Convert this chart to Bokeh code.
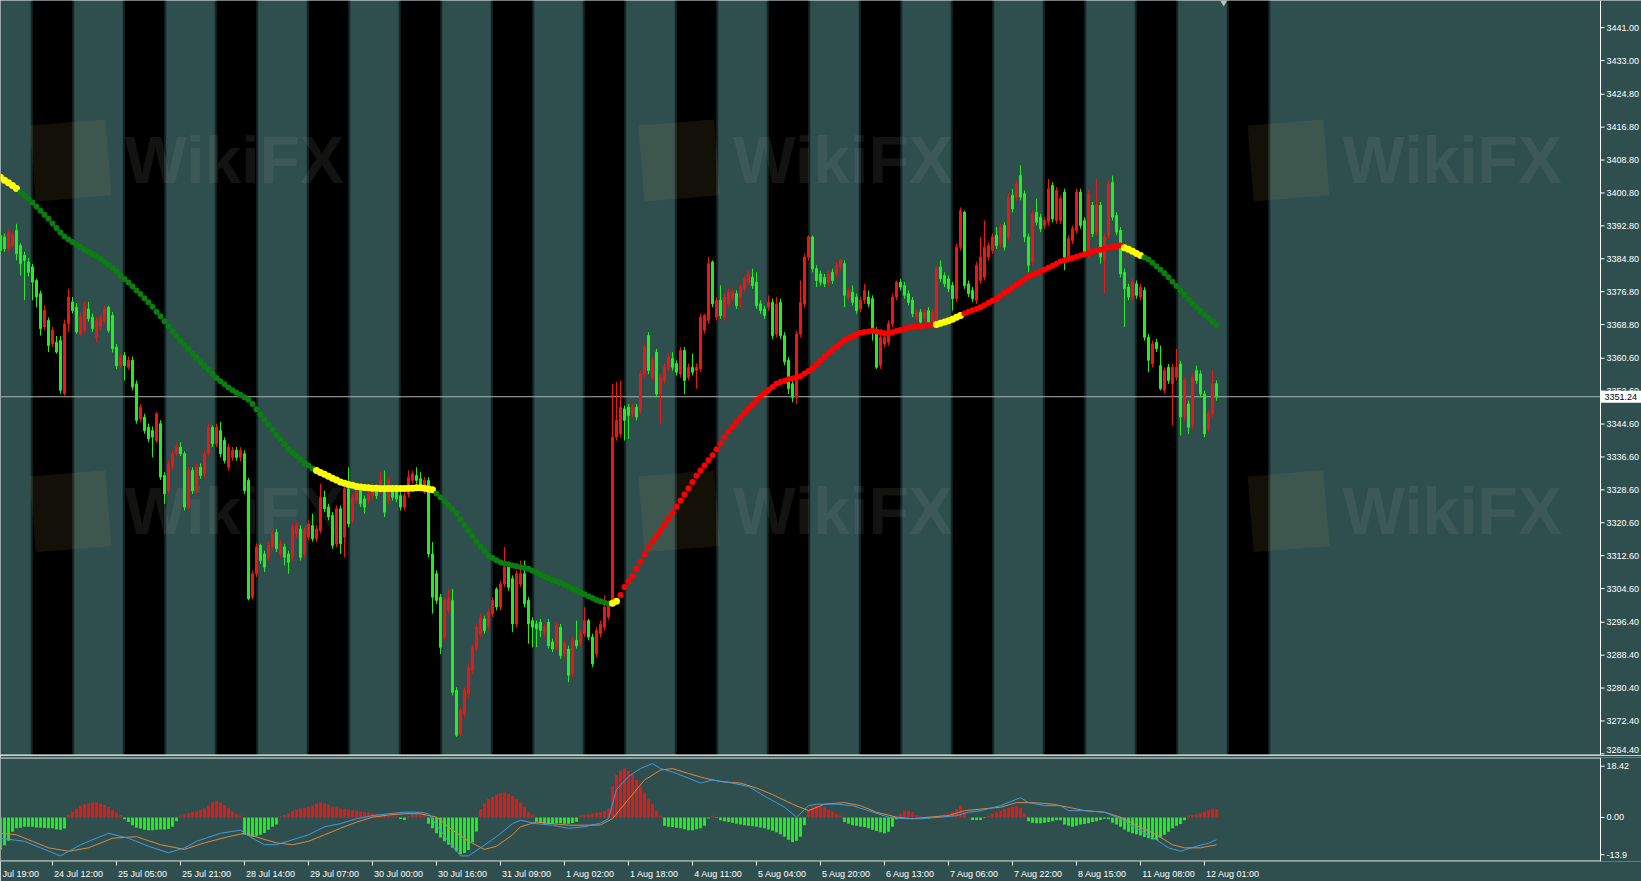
from bokeh.plotting import figure
from bokeh.models import Range1d, FixedTicker, LinearAxis, ColumnDataSource
from bokeh.layouts import column
from bokeh.embed import file_html
from bokeh.resources import INLINE
from bokeh.core.properties import value

# ---------------- data (hourly candles) ----------------
open_ = [3390.5,3390.1,3387.2,3388.0,3391.7,3388.0,3385.6,3384.0,3382.8,3379.5,
3376.3,3368.2,3369.8,3364.1,3364.5,3364.9,3352.0,3369.0,3374.3,3373.0,
3366.5,3367.4,3372.6,3370.6,3365.7,3368.2,3369.8,3373.0,3371.0,3363.3,
3358.8,3361.3,3358.4,3360.1,3354.4,3345.9,3346.3,3343.8,3343.0,3340.6,
3344.7,3332.1,3328.4,3334.1,3337.4,3339.0,3337.4,3324.4,3333.3,3328.4,
3334.1,3332.5,3337.4,3343.8,3339.8,3343.0,3340.6,3334.1,3336.5,3338.2,
3336.5,3337.4,3330.9,3302.5,3308.2,3315.1,3313.0,3312.2,3314.7,3318.3,
3313.0,3314.7,3313.0,3312.2,3317.9,3319.1,3313.0,3317.1,3319.9,3316.7,
3318.7,3326.8,3324.4,3322.4,3315.5,3324.0,3317.1,3328.9,3321.2,3326.0,
3328.4,3326.4,3326.0,3327.2,3328.9,3328.4,3328.4,3326.0,3328.4,3328.4,
3327.2,3324.4,3327.6,3330.9,3332.1,3331.3,3328.4,3330.9,3313.0,3308.2,
3302.5,3292.8,3299.3,3301.7,3279.8,3269.3,3274.1,3279.0,3284.7,3290.3,
3293.6,3297.2,3295.6,3298.5,3304.5,3300.1,3305.7,3309.8,3307.0,3296.0,
3305.7,3308.2,3301.7,3296.8,3296.0,3296.4,3293.6,3296.4,3291.6,3290.3,
3295.2,3288.7,3289.9,3283.9,3292.0,3291.2,3293.6,3296.8,3292.8,3288.7,
3293.6,3295.2,3297.7,3300.9,3341.4,3342.2,3348.3,3348.7,3347.1,3348.7,
3347.9,3356.8,3366.1,3356.0,3362.1,3351.9,3355.2,3358.4,3360.5,3359.3,
3356.8,3362.5,3356.0,3358.4,3357.6,3358.0,3367.4,3369.8,3384.0,3370.6,
3374.7,3370.6,3373.8,3375.1,3376.3,3375.5,3377.5,3379.1,3380.3,3379.1,
3373.8,3372.6,3373.0,3374.2,3366.5,3374.2,3366.1,3360.1,3354.4,3351.1,
3366.5,3373.8,3385.2,3390.1,3382.4,3381.1,3380.3,3379.1,3381.5,3381.1,
3382.8,3383.6,3375.5,3376.7,3375.5,3372.6,3374.7,3375.5,3375.1,3367.4,
3358.8,3364.1,3364.5,3369.0,3375.5,3379.1,3378.3,3376.3,3374.7,3370.6,
3371.8,3370.2,3372.2,3369.0,3369.0,3382.8,3380.7,3379.9,3378.3,3375.1,
3387.6,3396.1,3378.7,3377.1,3374.7,3379.5,3380.3,3385.2,3386.8,3390.5,
3388.4,3392.9,3390.1,3400.2,3399.8,3405.0,3400.6,3390.1,3384.0,3396.1,
3394.9,3392.9,3393.7,3402.6,3394.1,3394.1,3401.0,3385.2,3389.2,3391.7,
3401.0,3394.1,3386.0,3397.8,3391.3,3397.8,3384.4,3390.5,3403.4,3395.3,
3391.7,3381.5,3377.9,3375.5,3378.7,3375.5,3377.1,3365.7,3359.2,3364.5,
3358.8,3352.8,3358.4,3354.4,3356.0,3359.2,3346.3,3349.5,3344.3,3357.6,
3356.8,3351.9,3343.4,3347.1,3354.4]
high = [3391.3,3391.0,3392.0,3391.5,3393.3,3388.6,3386.5,3385.0,3383.5,3380.0,
3377.0,3373.5,3370.5,3368.2,3366.0,3366.0,3370.0,3377.5,3375.5,3374.0,
3371.5,3374.3,3374.3,3371.5,3370.5,3371.2,3373.4,3373.4,3371.8,3364.1,
3361.7,3362.1,3361.0,3361.0,3355.2,3349.5,3347.1,3344.7,3344.0,3347.5,
3345.5,3332.9,3335.7,3338.2,3340.0,3340.2,3338.0,3334.2,3334.1,3334.9,
3335.0,3338.2,3344.7,3344.3,3344.7,3345.1,3341.4,3339.8,3339.0,3339.0,
3339.0,3338.2,3331.5,3309.0,3315.5,3315.5,3313.8,3315.9,3318.7,3319.1,
3316.3,3315.5,3313.8,3320.3,3320.7,3320.0,3319.5,3321.2,3322.8,3320.0,
3330.1,3328.4,3325.2,3323.2,3324.8,3324.8,3329.3,3334.1,3327.6,3329.3,
3329.3,3327.2,3328.4,3330.1,3329.7,3332.9,3333.3,3331.7,3329.3,3329.3,
3328.0,3328.0,3333.3,3333.3,3334.1,3332.9,3331.7,3331.7,3315.9,3309.0,
3303.3,3302.5,3304.5,3304.5,3280.6,3275.8,3280.6,3286.3,3291.1,3296.0,
3298.5,3298.0,3299.7,3302.5,3304.9,3306.5,3314.7,3310.6,3307.8,3309.0,
3311.4,3311.4,3302.5,3297.6,3296.8,3297.2,3296.0,3297.2,3292.4,3296.4,
3296.0,3292.0,3290.7,3292.8,3296.8,3294.4,3300.1,3297.2,3293.6,3295.2,
3296.8,3302.9,3301.7,3354.4,3354.8,3355.2,3349.1,3349.5,3349.5,3349.5,
3357.6,3364.1,3366.9,3360.9,3362.9,3356.8,3359.3,3361.7,3362.1,3360.1,
3363.3,3363.3,3359.3,3361.7,3359.3,3371.4,3371.4,3385.2,3384.4,3375.5,
3378.3,3376.3,3377.5,3377.5,3377.1,3378.7,3380.7,3381.9,3382.4,3381.5,
3374.7,3373.4,3375.9,3375.1,3375.5,3375.1,3366.9,3360.9,3355.2,3367.3,
3379.5,3386.0,3390.5,3390.5,3383.2,3381.9,3381.1,3381.9,3382.4,3384.0,
3384.8,3384.4,3377.9,3378.3,3376.3,3375.5,3378.7,3377.1,3375.9,3368.2,
3366.5,3366.5,3369.8,3376.3,3379.5,3379.9,3379.1,3377.1,3375.5,3372.6,
3372.6,3372.6,3373.0,3372.6,3382.8,3384.4,3381.5,3380.7,3379.1,3388.4,
3397.3,3396.5,3379.5,3377.9,3384.0,3390.1,3394.1,3388.8,3390.9,3392.5,
3393.3,3393.7,3400.6,3401.8,3403.8,3407.5,3401.4,3390.9,3396.5,3399.4,
3395.7,3394.9,3404.2,3403.4,3402.2,3400.2,3401.8,3390.5,3392.9,3401.8,
3401.8,3394.9,3401.4,3398.6,3404.2,3398.6,3390.9,3403.8,3405.0,3396.1,
3392.5,3382.4,3378.7,3379.9,3379.5,3378.7,3377.9,3366.5,3364.9,3365.3,
3363.7,3358.4,3359.2,3359.2,3362.9,3360.0,3356.0,3350.3,3356.8,3358.8,
3357.6,3352.7,3347.9,3357.6,3355.2]
low = [3386.0,3386.5,3386.6,3387.5,3384.4,3380.7,3374.7,3380.5,3374.7,3373.0,
3366.1,3367.5,3362.1,3363.3,3361.7,3352.0,3351.5,3367.0,3371.5,3366.5,
3366.0,3366.8,3369.5,3367.0,3364.5,3367.5,3369.0,3366.8,3362.0,3358.0,
3358.2,3355.2,3357.8,3352.8,3344.7,3345.1,3342.2,3340.2,3336.5,3340.0,
3331.0,3325.2,3327.8,3333.5,3336.8,3336.8,3323.6,3323.8,3327.6,3327.6,
3331.3,3331.7,3336.8,3339.0,3339.0,3336.5,3335.0,3333.3,3335.7,3335.7,
3335.5,3327.6,3301.7,3301.9,3307.5,3310.6,3308.6,3311.4,3314.0,3313.5,
3312.2,3310.2,3308.2,3311.4,3317.1,3311.4,3312.2,3316.3,3316.0,3315.9,
3318.0,3323.2,3321.2,3314.3,3314.7,3313.0,3312.2,3319.5,3320.5,3325.2,
3324.4,3322.8,3325.2,3326.4,3326.4,3327.6,3322.0,3325.2,3326.0,3325.6,
3323.6,3323.6,3326.8,3330.1,3330.1,3328.4,3327.6,3312.2,3298.5,3300.9,
3288.7,3292.0,3298.5,3278.6,3268.5,3268.7,3273.3,3278.2,3283.9,3289.5,
3292.8,3293.6,3294.8,3297.7,3299.3,3299.3,3305.0,3304.1,3294.0,3295.2,
3305.0,3300.1,3291.2,3290.3,3290.3,3292.8,3292.8,3290.0,3289.1,3289.5,
3287.5,3288.0,3281.8,3283.1,3290.0,3290.5,3292.8,3292.0,3285.5,3287.9,
3292.8,3294.4,3297.0,3300.1,3340.6,3341.4,3340.6,3341.0,3346.3,3345.5,
3347.1,3356.0,3356.8,3355.2,3351.1,3344.7,3354.4,3357.6,3357.6,3356.4,
3356.0,3351.9,3355.2,3356.4,3353.2,3357.2,3366.6,3369.0,3373.0,3369.8,
3370.2,3369.8,3373.0,3374.3,3372.6,3373.0,3376.7,3378.3,3377.5,3372.6,
3371.4,3370.2,3372.2,3365.3,3365.7,3365.3,3358.9,3351.9,3349.9,3349.5,
3365.7,3373.0,3384.4,3381.5,3377.9,3378.3,3377.9,3378.3,3378.7,3380.3,
3382.0,3373.0,3374.7,3373.4,3371.4,3371.8,3373.8,3373.0,3364.9,3358.0,
3358.0,3363.3,3363.7,3368.2,3374.7,3377.1,3375.1,3373.4,3370.6,3369.8,
3368.6,3369.4,3368.6,3368.2,3368.2,3379.1,3377.9,3376.7,3372.2,3374.3,
3386.8,3377.5,3375.5,3374.3,3373.8,3378.7,3379.5,3384.4,3386.0,3387.2,
3387.6,3386.8,3389.2,3396.1,3399.0,3399.0,3388.8,3381.5,3383.2,3392.9,
3391.3,3392.1,3392.9,3393.7,3393.3,3393.3,3382.0,3384.4,3388.4,3390.9,
3392.1,3385.2,3385.2,3390.1,3390.5,3383.6,3376.3,3389.7,3394.1,3390.5,
3380.3,3368.2,3374.7,3374.7,3375.1,3374.7,3364.9,3357.2,3358.4,3362.1,
3352.8,3352.0,3354.4,3344.3,3355.2,3341.8,3345.5,3342.2,3343.5,3354.4,
3351.1,3341.4,3342.6,3346.3,3350.3]
close = [3386.8,3387.2,3391.3,3390.5,3386.0,3383.6,3384.4,3381.5,3379.1,3375.5,
3367.8,3372.2,3363.7,3367.4,3362.1,3352.8,3369.0,3375.5,3372.2,3367.0,
3370.6,3373.0,3370.2,3367.8,3369.8,3370.6,3372.6,3367.4,3362.9,3358.8,
3360.9,3358.8,3360.1,3353.6,3345.5,3348.7,3343.0,3341.0,3341.4,3347.1,
3331.7,3327.6,3334.9,3337.4,3339.0,3337.4,3324.4,3333.3,3328.4,3334.1,
3332.1,3337.4,3343.8,3339.8,3343.8,3337.4,3335.7,3339.0,3338.2,3336.5,
3338.2,3328.4,3302.1,3308.2,3314.7,3311.4,3309.8,3315.1,3317.9,3314.3,
3315.5,3312.2,3311.0,3319.5,3319.9,3312.2,3318.7,3320.3,3316.7,3319.1,
3326.8,3324.0,3322.0,3315.1,3324.0,3315.5,3328.9,3320.3,3326.8,3328.4,
3325.2,3324.4,3327.6,3329.3,3327.2,3330.9,3323.2,3330.9,3326.8,3326.4,
3324.4,3327.2,3331.7,3332.5,3330.9,3329.3,3330.9,3313.0,3302.5,3301.7,
3290.3,3301.7,3302.1,3279.4,3268.9,3275.0,3279.8,3285.5,3290.3,3295.2,
3297.6,3294.4,3298.9,3301.7,3300.1,3305.7,3309.8,3304.9,3296.0,3308.2,
3308.2,3300.9,3296.0,3295.2,3294.8,3294.4,3295.2,3290.7,3289.9,3295.6,
3288.3,3291.2,3283.5,3292.0,3290.7,3293.6,3296.8,3292.8,3286.3,3294.4,
3296.0,3300.1,3300.9,3341.4,3345.5,3348.7,3345.5,3346.7,3348.7,3346.3,
3356.8,3363.3,3357.6,3360.1,3351.9,3356.0,3358.4,3360.9,3358.4,3357.2,
3362.5,3355.2,3358.4,3357.2,3358.4,3370.6,3371.0,3383.6,3373.8,3374.7,
3371.0,3375.5,3376.7,3376.7,3373.4,3377.9,3379.9,3381.1,3378.3,3373.4,
3372.2,3371.0,3374.2,3366.1,3373.8,3366.1,3359.7,3353.2,3351.1,3366.5,
3374.2,3385.2,3390.1,3382.4,3379.5,3379.1,3378.7,3381.1,3379.5,3383.2,
3384.4,3375.9,3377.1,3374.2,3372.2,3374.7,3377.1,3373.8,3367.4,3358.4,
3365.7,3365.7,3369.0,3375.5,3379.1,3377.9,3375.9,3374.2,3371.4,3371.8,
3369.4,3371.8,3369.4,3371.8,3382.4,3379.9,3378.7,3377.5,3375.1,3387.6,
3396.5,3378.3,3376.3,3375.1,3383.2,3385.2,3387.6,3388.0,3390.1,3388.0,
3392.5,3387.6,3399.8,3396.9,3403.0,3399.8,3390.1,3383.2,3395.7,3393.7,
3392.1,3394.1,3401.8,3394.5,3401.4,3399.4,3385.2,3389.7,3392.1,3401.0,
3392.9,3386.0,3400.6,3390.9,3397.8,3385.2,3390.1,3403.0,3394.9,3391.3,
3381.1,3377.5,3375.5,3379.1,3375.9,3377.9,3365.7,3360.1,3364.1,3362.9,
3353.2,3357.6,3355.2,3358.4,3358.4,3346.3,3355.2,3343.8,3356.0,3355.2,
3351.9,3342.2,3347.1,3354.4,3351.24]

# trend moving average (drawn as dots) and its colour state
ma = [3404.6,3403.9,3403.3,3402.6,3401.9,3401.0,3400.2,3399.3,3398.5,3397.5,
3396.5,3395.5,3394.5,3393.4,3392.3,3391.2,3390.2,3389.5,3388.9,3388.2,
3387.6,3387.0,3386.5,3385.9,3385.4,3384.8,3384.0,3383.3,3382.5,3381.7,
3380.8,3379.9,3379.0,3378.1,3377.1,3376.2,3375.2,3374.2,3373.1,3371.9,
3370.8,3369.6,3368.4,3367.2,3366.0,3364.8,3363.8,3362.8,3361.7,3360.7,
3359.7,3358.7,3357.8,3356.8,3355.8,3355.0,3354.3,3353.5,3352.8,3352.2,
3351.7,3351.1,3350.5,3349.5,3348.2,3347.0,3345.7,3344.5,3343.2,3342.0,
3340.9,3339.7,3338.5,3337.7,3336.9,3336.0,3335.2,3334.5,3333.8,3333.3,
3332.8,3332.4,3331.9,3331.4,3331.0,3330.5,3330.2,3329.9,3329.7,3329.4,
3329.3,3329.2,3329.1,3329.0,3329.0,3328.9,3328.9,3328.9,3328.9,3328.9,
3328.9,3328.9,3329.0,3329.0,3329.1,3329.1,3329.0,3328.8,3328.6,3327.7,
3326.8,3325.8,3324.8,3323.8,3322.8,3321.4,3320.0,3318.7,3317.3,3316.0,
3314.8,3313.7,3312.6,3312.0,3311.5,3311.0,3310.7,3310.5,3310.2,3310.0,
3309.8,3309.6,3309.4,3308.9,3308.5,3308.0,3307.5,3307.1,3306.7,3306.4,
3306.0,3305.5,3305.1,3304.6,3304.2,3303.7,3303.2,3302.7,3302.3,3301.8,
3301.5,3301.2,3300.9,3301.0,3301.5,3303.0,3305.0,3306.3,3307.6,3309.4,
3311.1,3312.9,3314.6,3316.0,3317.3,3318.7,3320.1,3321.6,3323.0,3324.5,
3326.0,3327.5,3329.0,3330.5,3332.0,3333.3,3334.5,3335.8,3337.0,3338.5,
3339.9,3341.4,3342.8,3343.9,3345.1,3346.2,3347.3,3348.3,3349.3,3350.3,
3351.3,3352.1,3352.9,3353.6,3354.4,3354.8,3355.1,3355.5,3355.7,3356.0,
3356.2,3356.9,3357.5,3358.2,3359.1,3360.0,3360.9,3361.8,3362.6,3363.4,
3364.2,3365.0,3365.5,3365.9,3366.4,3366.8,3367.0,3367.1,3367.3,3367.1,
3366.9,3366.7,3366.6,3366.9,3367.2,3367.5,3367.7,3368.0,3368.2,3368.3,
3368.4,3368.5,3368.6,3368.7,3368.8,3369.1,3369.4,3369.7,3370.1,3370.6,
3371.0,3371.5,3371.9,3372.3,3372.6,3373.0,3373.5,3374.1,3374.6,3375.1,
3375.8,3376.5,3377.1,3377.8,3378.5,3379.1,3379.8,3380.5,3380.9,3381.3,
3381.7,3382.1,3382.6,3383.1,3383.6,3384.1,3384.4,3384.7,3385.0,3385.3,
3385.6,3385.9,3386.2,3386.5,3386.8,3387.0,3387.3,3387.5,3387.7,3387.9,
3388.0,3387.5,3387.1,3386.6,3386.1,3385.6,3385.1,3384.6,3383.8,3383.0,
3382.1,3381.3,3380.3,3379.2,3378.2,3377.1,3376.1,3375.0,3374.0,3373.0,
3372.1,3371.2,3370.4,3369.5,3368.6]
ma_trend_start = [0, 5, 79, 109, 153, 155, 234, 241, 281, 286]
ma_trend = ["flat", "down", "flat", "down", "flat", "up", "flat", "up", "flat", "down"]

# session shading (bar index ranges)
session_start = [8, 31, 54, 77, 100, 123, 146, 169, 192, 215, 238, 261, 284, 307]
session_end = [18, 41, 64, 87, 110, 133, 156, 179, 202, 225, 248, 271, 294, 317]

last_price = 3351.24

# MACD sub-window
macd_hist = [-10.3,-9.0,-7.5,-4.6,-3.5,-3.3,-3.0,-3.0,-3.0,-3.2,-3.3,-3.4,-3.5,-3.5,-3.8,-4.0,-3.6,
0.9,1.8,2.9,3.8,4.3,4.6,4.8,4.8,4.5,4.0,3.4,2.5,1.6,0.8,
-0.6,-1.5,-2.5,-3.3,-3.6,-4.0,-4.1,-4.1,-4.0,-3.9,-3.9,-3.7,-3.0,-1.2,
0.6,1.0,1.4,1.7,2.0,2.4,2.9,3.8,4.9,5.3,4.8,4.0,3.0,2.0,1.2,0.6,
-5.6,-5.9,-6.2,-6.0,-5.6,-5.0,-4.0,-3.0,-2.3,
0.4,0.8,1.4,2.0,2.5,2.9,3.1,3.5,3.9,4.4,4.8,4.6,4.1,3.5,3.3,3.0,2.7,2.5,2.3,2.2,
2.0,1.8,1.6,1.4,1.2,1.0,0.7,0.5,0.4,0.3,
-0.5,-0.8,
0.4,0.8,1.0,1.0,0.9,
-2.0,-3.5,-5.1,-6.5,-7.7,-8.8,-9.8,-10.9,-11.9,-11.5,-10.5,-8.0,-4.5,
2.7,4.5,6.0,6.7,7.4,7.9,8.0,7.6,6.9,6.0,4.8,3.5,1.7,0.9,
-1.4,-1.7,-2.0,-2.0,-2.0,-1.9,-1.9,-2.0,-2.0,-1.8,-1.4,
0.6,0.9,1.0,1.2,1.5,1.7,2.0,2.7,10.0,13.7,15.1,15.8,15.1,14.0,12.1,10.0,7.96,5.9,4.3,2.2,0.6,
-2.7,-3.0,-3.1,-3.3,-3.5,-3.8,-4.1,-4.1,-3.8,-3.5,-2.7,-0.3,
0.6,
-0.2,-0.9,-1.2,-1.5,-1.7,-2.0,-2.3,-2.5,-2.7,-2.8,-3.0,-3.2,-3.5,-3.9,-4.3,-4.8,-5.4,-6.2,-7.2,-7.9,-7.5,-6.2,-2.5,
2.2,3.6,3.8,3.8,3.3,2.5,1.9,1.2,0.6,
-1.5,-2.0,-2.5,-2.7,-2.9,-3.1,-3.5,-4.0,-4.4,-4.8,-5.1,-4.6,-3.0,-0.6,
1.2,2.2,2.2,1.7,0.8,0.4,
-0.2,-0.3,-0.1,
0.4,0.8,1.0,1.2,1.7,2.7,3.8,1.7,0.1,
-0.8,-0.8,-0.8,-0.2,
0.6,1.2,1.7,2.2,2.7,3.0,3.4,3.6,3.0,1.2,
-1.2,-1.7,-1.9,-1.9,-1.7,-1.5,-1.2,-0.9,-0.9,-2.3,-2.7,-3.0,-2.7,-2.3,-2.1,-1.9,-1.5,-1.2,-0.8,-0.4,
-0.6,-1.7,-2.3,-3.0,-3.9,-4.6,-5.1,-5.4,-5.8,-6.3,-6.7,-7.1,-7.3,-6.5,-5.6,-4.6,-3.5,-2.7,-2.1,-0.9,
0.6,0.8,1.0,1.4,1.9,2.4,2.7,2.7]
macd_x = [0,3,6,10,15,20,27,32,37,42,46,49,55,60,63,66,69,73,77,81,85,89,93,97,101,105,107,109,112,115,
117,120,124,128,130,134,138,142,146,150,152,154,157,160,163,165,168,172,175,178,183,187,191,196,199,202,204,209,213,217,
222,226,230,235,239,242,245,250,255,257,261,265,267,271,276,280,284,289,292,295,299,302,304]
macd_main = [-6.7,-7.2,-7.7,-9.8,-12.4,-8.8,-5.1,-6.7,-9.3,-11.4,-9.8,-7.7,-5.1,-4.1,-6.7,-8.8,-8.8,-7.2,-5.6,-3.0,
-2.0,-0.4,0.6,1.2,1.7,1.7,1.2,-2.5,-7.7,-12.4,-12.4,-9.8,-6.2,-2.0,-0.9,-2.0,-2.5,-3.5,-3.0,-1.8,
-0.4,9.0,13.2,15.8,17.4,15.8,14.7,12.7,11.1,12.1,11.1,10.0,6.9,3.3,0.1,3.8,4.3,4.3,3.8,2.2,
0.1,-0.4,-0.4,0.1,0.6,1.7,2.2,3.8,6.4,4.8,3.8,3.8,2.2,2.2,1.7,-0.4,-3.5,-7.2,-9.8,-10.9,-9.3,-8.3,-7.2]
signal_x = [0,4,8,12,17,22,28,34,40,46,51,57,61,65,69,73,77,81,85,89,93,97,101,105,109,113,117,121,124,128,
130,134,138,142,146,150,153,157,161,165,168,172,176,180,185,189,193,198,202,206,211,215,219,224,228,232,237,241,245,250,
254,258,263,267,271,276,280,284,289,293,296,300,304]
macd_signal = [-5.1,-5.6,-7.7,-9.8,-10.9,-9.8,-6.7,-6.2,-8.8,-10.3,-8.2,-6.2,-5.1,-6.7,-8.2,-8.8,-7.7,-5.6,-3.5,-1.5,
0.1,0.8,1.2,1.2,0.1,-4.1,-7.7,-10.3,-9.3,-5.6,-3.0,-1.5,-2.0,-2.5,-2.5,-2.4,-0.4,5.9,12.1,15.3,
15.8,14.2,12.7,11.6,11.1,9.5,7.4,4.3,2.2,4.3,4.8,3.8,1.7,0.1,-0.4,0.1,0.6,2.2,2.7,3.3,
4.8,4.8,4.3,3.3,2.2,1.7,0.1,-2.5,-5.6,-8.8,-9.8,-9.8,-8.8]

# axes
price_ticks = [3441.00, 3433.00, 3424.80, 3416.80, 3408.80, 3400.80, 3392.80, 3384.80, 3376.80,
               3368.80, 3360.60, 3352.60, 3344.60, 3336.60, 3328.60, 3320.60, 3312.60, 3304.60,
               3296.40, 3288.40, 3280.40, 3272.40, 3264.40]
macd_scale_max = 18.42
macd_scale_min = -13.9
macd_tick_labels = ["18.42", "0.00", "-13.9"]
date_tick_bars = [-3, 13, 29, 45, 61, 77, 93, 109, 125, 141, 157, 173, 189, 205, 221, 237, 253, 269, 285, 301]
date_labels = ["23 Jul 19:00", "24 Jul 12:00", "25 Jul 05:00", "25 Jul 21:00", "28 Jul 14:00",
               "29 Jul 07:00", "30 Jul 00:00", "30 Jul 16:00", "31 Jul 09:00", "1 Aug 02:00",
               "1 Aug 18:00", "4 Aug 11:00", "5 Aug 04:00", "5 Aug 20:00", "6 Aug 13:00",
               "7 Aug 06:00", "7 Aug 22:00", "8 Aug 15:00", "11 Aug 08:00", "12 Aug 01:00"]
watermark_text = "WikiFX"

# ---------------- style / layout ----------------
BG = "#2f4f4f"
UP = "#ee1515"
DOWN = "#22ee22"
TREND = {"down": "#0b7d12", "flat": "#ffff00", "up": "#ff0000"}
FONT = "Liberation Sans"
W = 1641
RIGHT = 41
MAIN_H = 755
SUB_TOP, SUB_FRAME, SUB_BOTTOM = 2, 107, 17
X0, AX = 0, 400                     # plot area in bar units (scale line at AX)
ppb = (W - RIGHT) / (AX - X0)       # pixels per bar
XR = AX + RIGHT / ppb               # both windows also cover the scale strip
Y0, Y1 = 3264.0, 3447.6
ppp = MAIN_H / (Y1 - Y0)            # pixels per price unit
xr = Range1d(X0, XR)

p = figure(width=W, height=MAIN_H, x_range=xr, y_range=Range1d(Y0, Y1),
           x_axis_location=None, y_axis_location=None, output_backend="svg",
           toolbar_location=None, min_border=0)
p.background_fill_color = BG
p.border_fill_color = BG
p.outline_line_color = None
p.grid.visible = False

# session stripes
p.quad(left=session_start, right=session_end, bottom=Y0, top=Y1, fill_color="black", line_color=None)
p.quad(left=[s - 0.45 for s in session_start], right=session_start, bottom=Y0, top=Y1,
       fill_color="black", fill_alpha=0.5, line_color=None)
p.quad(left=session_end, right=[e + 0.45 for e in session_end], bottom=Y0, top=Y1,
       fill_color="black", fill_alpha=0.5, line_color=None)

# faint watermark
wm_bar = [17.5, 169.7, 322.0]
wm_price = [3408.7, 3323.4]
wx = [b for b in wm_bar for _ in wm_price]
wy = [y for _ in wm_bar for y in wm_price]
p.rect(x=wx, y=wy, width=76 / ppb, height=76 / ppp, fill_color="#d8b450", fill_alpha=0.09,
       line_color=None, angle=0.08)
p.text(x=[b + 13.5 for b in wx], y=wy, text=[watermark_text] * len(wx), text_font=value(FONT),
       text_font_style="bold", text_font_size="66px", text_color="#a0a090", text_alpha=0.12,
       text_baseline="middle", text_align="left")

# current price line
p.segment(x0=[X0], y0=[last_price], x1=[AX], y1=[last_price], line_color="#a9b3b3", line_width=1)

# candles
n = len(close)
xs = list(range(n))
cols = [UP if close[i] >= open_[i] else DOWN for i in xs]
src = ColumnDataSource(dict(x=xs, h=high[:n], l=low[:n], top=[max(open_[i], close[i]) for i in xs],
                            bot=[min(open_[i], close[i]) for i in xs], c=cols))
p.segment(x0="x", y0="l", x1="x", y1="h", color="c", line_width=1, source=src)
p.vbar(x="x", width=0.5, top="top", bottom="bot", fill_color="c", line_color="c", line_width=1, source=src)

# trend MA dots
ma_col, ma_size = [], []
for i in range(len(ma)):
    k = max(j for j, s in enumerate(ma_trend_start) if s <= i)
    ma_col.append(TREND[ma_trend[k]])
    ma_size.append(7 if ma_trend[k] == "flat" else 6)
p.scatter(x=list(range(len(ma))), y=ma, size=ma_size, fill_color=ma_col, line_color=None, marker="circle")

# chart-shift marker at top
p.scatter(x=[n + 0.8], y=[Y1 - 2 / ppp], marker="inverted_triangle", size=7, fill_color="#b8c0c0", line_color=None)

# separator line at the bottom of the main window
p.segment(x0=[X0], y0=[Y0 + 0.6 / ppp], x1=[AX], y1=[Y0 + 0.6 / ppp], line_color="#d8d8d8", line_width=1)

# price scale (right strip of the main window)
p.segment(x0=[AX], y0=[Y0], x1=[AX], y1=[Y1], line_color="white", line_width=1)
nt = len(price_ticks)
p.segment(x0=[AX] * nt, y0=price_ticks, x1=[AX + 4 / ppb] * nt, y1=price_ticks, line_color="white", line_width=1)
edge_off = [(-4 if (t - Y0) * ppp < 6 else 0) for t in price_ticks]
p.text(x=[AX + 6 / ppb] * nt, y=price_ticks, text=["%.2f" % t for t in price_ticks],
       text_font=value(FONT), text_font_size="9px", text_color="white",
       text_align="left", text_baseline="middle", y_offset=edge_off)
# current price tag
tag_h = 12 / ppp
p.quad(left=[AX + 0.3 / ppb], right=[XR], bottom=[last_price - tag_h / 2], top=[last_price + tag_h / 2],
       fill_color="white", line_color=None)
p.text(x=[AX + 4 / ppb], y=[last_price], text=["%.2f" % last_price], text_font=value(FONT),
       text_font_size="9px", text_color="black", text_align="left", text_baseline="middle")

# ---------------- MACD window ----------------
u = (macd_scale_max - macd_scale_min) / (SUB_FRAME - 4)
M1 = macd_scale_max + 3 * u
M0 = macd_scale_min - 1 * u
m = figure(width=W, height=SUB_TOP + SUB_FRAME + SUB_BOTTOM, x_range=xr, y_range=Range1d(M0, M1),
           y_axis_location=None, output_backend="svg", toolbar_location=None,
           min_border_left=0, min_border_right=0, min_border_top=SUB_TOP, min_border_bottom=SUB_BOTTOM)
m.background_fill_color = BG
m.border_fill_color = BG
m.outline_line_color = None
m.grid.visible = False

hx = list(range(len(macd_hist)))
hcol = [UP if v >= 0 else DOWN for v in macd_hist]
m.vbar(x=hx, width=0.72, top=macd_hist, bottom=0, fill_color=hcol, line_color=None)
m.line(signal_x, macd_signal, line_color="#e0883c", line_width=1)
m.line(macd_x, macd_main, line_color="#3d9be6", line_width=1)

# window box (top and bottom edges) and scale strip
ppu = SUB_FRAME / (M1 - M0)
m.segment(x0=[X0, X0], y0=[M1 - 0.6 / ppu, M0 + 0.6 / ppu], x1=[AX, AX], y1=[M1 - 0.6 / ppu, M0 + 0.6 / ppu],
          line_color="#e0e0e0", line_width=1)
m.segment(x0=[AX], y0=[M0], x1=[AX], y1=[M1], line_color="white", line_width=1)
label_off = 6 * u
mt = [macd_scale_max - label_off, 0.0, macd_scale_min + label_off]
m.segment(x0=[AX] * 3, y0=mt, x1=[AX + 4 / ppb] * 3, y1=mt, line_color="white", line_width=1)
m.text(x=[AX + 6 / ppb] * 3, y=mt, text=macd_tick_labels, text_font=value(FONT), text_font_size="9px",
       text_color="white", text_align="left", text_baseline="middle")

# bottom date axis: tick marks
tax = m.xaxis[0]
tax.ticker = FixedTicker(ticks=date_tick_bars)
tax.major_label_overrides = {t: "" for t in date_tick_bars}
tax.major_label_text_font_size = "1px"
tax.major_label_standoff = 0
tax.axis_line_color = None
tax.major_tick_line_color = "white"
tax.major_tick_out = 4
tax.major_tick_in = 0
tax.minor_tick_line_color = None

# labels start just right of each tick (MT4 style); text running off the left edge is cut
CW = {" ": 2.5, ":": 2.5, "J": 4.5, "u": 5.0, "l": 2.0, "A": 6.0, "g": 5.0}
def text_w(s):
    return sum(CW.get(ch, 5.0) for ch in s)
centers, shown_labels = [], []
for t, lb in zip(date_tick_bars, date_labels):
    start = (t - X0) * ppb + 1.5
    shown = lb
    while start < 0 and " " in shown:
        head, shown = shown.split(" ", 1)
        start += text_w(head + " ")
    centers.append(round(X0 + (start + text_w(shown) / 2) / ppb, 3))
    shown_labels.append(shown)
lax = LinearAxis(ticker=FixedTicker(ticks=centers),
                 major_label_overrides={c: lb for c, lb in zip(centers, shown_labels)})
lax.axis_line_color = None
lax.major_tick_line_color = None
lax.minor_tick_line_color = None
lax.major_label_text_color = "white"
lax.major_label_text_font = FONT
lax.major_label_text_font_size = "9px"
lax.major_label_standoff = -3
m.add_layout(lax, "below")

layout = column(p, m, spacing=0)
open("out.html", "w").write(file_html(layout, INLINE))
